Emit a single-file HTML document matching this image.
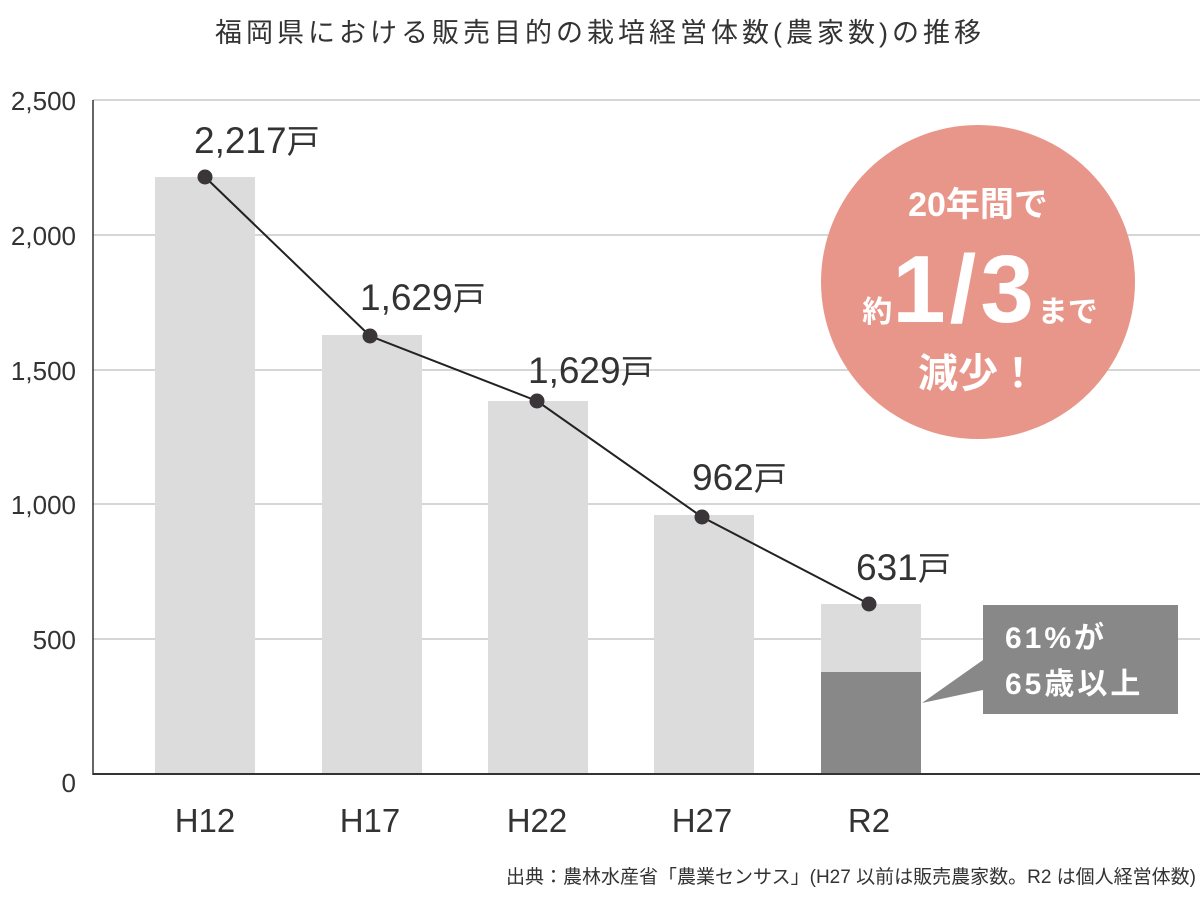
<!DOCTYPE html>
<html><head><meta charset="utf-8"><style>
body{margin:0;background:#fff}
svg text{font-family:"Liberation Sans","Noto Sans CJK JP",sans-serif}
</style></head><body>
<svg width="1200" height="900" viewBox="0 0 1200 900" xmlns="http://www.w3.org/2000/svg">
<text x="600" y="42" text-anchor="middle" font-size="27" fill="#333" letter-spacing="4">福岡県における販売目的の栽培経営体数(農家数)の推移</text>
<g stroke="#c8c8c8" stroke-width="1.5">
<line x1="93" y1="100" x2="1200" y2="100"/><line x1="93" y1="235" x2="1200" y2="235"/>
<line x1="93" y1="370" x2="1200" y2="370"/><line x1="93" y1="504" x2="1200" y2="504"/>
<line x1="93" y1="639" x2="1200" y2="639"/>
</g>
<g font-size="26" fill="#333" text-anchor="end">
<text x="76" y="110">2,500</text><text x="76" y="245">2,000</text><text x="76" y="380">1,500</text>
<text x="76" y="514">1,000</text><text x="76" y="649">500</text><text x="76" y="792">0</text>
</g>
<g fill="#dcdcdc">
<rect x="155" y="177" width="100" height="597"/><rect x="322" y="335" width="100" height="439"/>
<rect x="488" y="401" width="100" height="373"/><rect x="654" y="515" width="100" height="259"/>
<rect x="821" y="604" width="100" height="170"/>
</g>
<rect x="821" y="672" width="100" height="102" fill="#888"/>
<line x1="93" y1="100" x2="93" y2="775" stroke="#333" stroke-width="1.5"/>
<line x1="93" y1="774" x2="1200" y2="774" stroke="#333" stroke-width="2"/>
<polyline points="205,177 370,336 537,401 702,517 869,604" fill="none" stroke="#222" stroke-width="2"/>
<g fill="#3a3538"><circle cx="205" cy="177" r="7.5"/><circle cx="370" cy="336" r="7.5"/><circle cx="537" cy="401" r="7.5"/><circle cx="702" cy="517" r="7.5"/><circle cx="869" cy="604" r="7.5"/></g>
<g font-size="37" fill="#333">
<text x="194" y="153">2,217<tspan font-size="33">戸</tspan></text>
<text x="360" y="310">1,629<tspan font-size="33">戸</tspan></text>
<text x="528" y="383">1,629<tspan font-size="33">戸</tspan></text>
<text x="692" y="490">962<tspan font-size="33">戸</tspan></text>
<text x="856" y="580">631<tspan font-size="33">戸</tspan></text>
</g>
<g font-size="33" fill="#333" text-anchor="middle">
<text x="205" y="832">H12</text><text x="370" y="832">H17</text><text x="537" y="832">H22</text><text x="702" y="832">H27</text><text x="869" y="832">R2</text>
</g>
<circle cx="978" cy="282" r="157" fill="#e8968a"/>
<g fill="#fff" font-weight="bold" text-anchor="middle">
<text x="978" y="216" font-size="34">20年間で</text>
<text x="980" y="322" font-size="26"><tspan font-size="30">約</tspan><tspan font-size="96" letter-spacing="4">1/3</tspan><tspan font-size="30">まで</tspan></text>
<text x="978" y="387" font-size="40">減少！</text>
</g>
<rect x="983" y="605" width="195" height="109" fill="#888"/>
<polygon points="983,660 983,690 922,703" fill="#888"/>
<g fill="#fff" font-size="30" font-weight="bold" letter-spacing="3">
<text x="1005" y="648">61%が</text><text x="1005" y="694">65歳以上</text>
</g>
<text x="1196" y="883" text-anchor="end" font-size="19" fill="#333">出典：農林水産省「農業センサス」(H27 以前は販売農家数。R2 は個人経営体数)</text>
</svg>
</body></html>
